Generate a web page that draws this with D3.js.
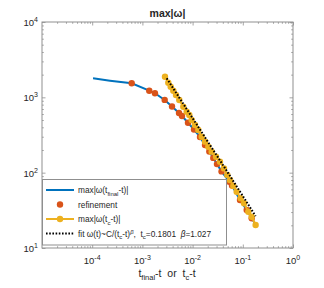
<!DOCTYPE html>
<html>
<head>
<meta charset="utf-8">
<script src="https://cdn.jsdelivr.net/npm/d3@7"></script>
<style>
body{margin:0;background:#fff}
svg{display:block}
text{font-family:"Liberation Sans",Arial,Helvetica,sans-serif;fill:#262626}
</style>
</head>
<body>
<svg id="chart" width="324" height="288"></svg>
<script>
// values
var blueT = [1.04e-4, 2.26e-4, 6.12e-4, 1.37e-3, 1.78e-3, 2.78e-3, 3.89e-3, 5.36e-3, 6.15e-3, 8.10e-3, 0.01066, 0.01404, 0.01766, 0.02153, 0.02584, 0.0306, 0.0377, 0.0539, 0.0610, 0.0879, 0.1197, 0.1504, 0.172]
var blueW = [1790, 1663, 1535, 1225, 1132, 924, 756, 619, 565, 460, 374, 298, 233, 191, 157, 130, 104, 75.9, 67.6, 43.4, 31.9, 24.8, 21.5]

var refT = [6.12e-4, 1.37e-3, 1.78e-3, 2.78e-3, 3.89e-3, 5.36e-3, 6.15e-3, 8.10e-3, 0.01066, 0.01404, 0.01766, 0.02153, 0.02584, 0.0306, 0.0377, 0.0539, 0.0610, 0.0879, 0.1197, 0.1504]
var refW = [1535, 1225, 1132, 924, 756, 619, 565, 460, 374, 298, 233, 191, 157, 130, 104, 75.9, 67.6, 43.4, 31.9, 24.8]

var tcT = [2.82e-3, 3.28e-3, 3.66e-3, 4.13e-3, 4.67e-3, 5.43e-3, 6.53e-3, 7.63e-3, 8.59e-3, 9.59e-3, 0.01117, 0.0130, 0.01518, 0.01767, 0.02056, 0.0240, 0.0292, 0.0351, 0.0422, 0.0491, 0.0556, 0.0647, 0.0755, 0.0907, 0.1057, 0.1288, 0.1503, 0.1801]
var tcW = [1880, 1563, 1383, 1224, 1074, 922, 751, 645, 583, 500, 429, 368, 300, 258, 221, 190, 163, 140, 114, 93, 80, 66.5, 55.9, 45.7, 39.2, 30.3, 26, 20.2]

var fitT = [3.05e-3, 0.01, 0.05, 0.1801]
var fitW = [1790, 529, 101, 26.5]

var xMajor = [1e-4, 1e-3, 1e-2, 1e-1, 1]
var xExp = ["-4", "-3", "-2", "-1", "0"]
var yMajor = [10, 100, 1000, 10000]
var yExp = ["1", "2", "3", "4"]

var W = 324, H = 288
var L = 42, R = 293, T = 22, B = 248
var sp = '\u00a0'

var svg = d3.select('#chart')
var x = d3.scaleLog().domain([1e-5, 1]).range([L, R])
var y = d3.scaleLog().domain([10, 1e4]).range([B, T])

var xMinor = [], yMinor = []
for (var d = -5; d < 0; d++) for (var m = 2; m < 10; m++) xMinor.push(m * Math.pow(10, d))
for (var d = 1; d < 4; d++) for (var m = 2; m < 10; m++) yMinor.push(m * Math.pow(10, d))

var axisCol = '#8f8f8f'

// ticks, all four sides, pointing inward
function tickAxis(ax, vals, len, tr)
{
    var g = svg.append('g').attr('transform', tr)
        .call(ax.tickValues(vals).tickSizeInner(-len).tickSizeOuter(0).tickFormat(''))
    g.select('.domain').remove()
    g.selectAll('line').attr('stroke', axisCol).attr('stroke-width', 0.8)
}
tickAxis(d3.axisBottom(x), xMajor, 3.5, 'translate(0,' + B + ')')
tickAxis(d3.axisBottom(x), xMinor, 1.8, 'translate(0,' + B + ')')
tickAxis(d3.axisTop(x), xMajor, 3.5, 'translate(0,' + T + ')')
tickAxis(d3.axisTop(x), xMinor, 1.8, 'translate(0,' + T + ')')
tickAxis(d3.axisLeft(y), yMajor, 3.5, 'translate(' + L + ',0)')
tickAxis(d3.axisLeft(y), yMinor, 1.8, 'translate(' + L + ',0)')
tickAxis(d3.axisRight(y), yMajor, 3.5, 'translate(' + R + ',0)')
tickAxis(d3.axisRight(y), yMinor, 1.8, 'translate(' + R + ',0)')

svg.append('rect').attr('x', L).attr('y', T).attr('width', R - L).attr('height', B - T)
    .attr('fill', 'none').attr('stroke', axisCol).attr('stroke-width', 1)

// tick labels 10^n
xMajor.forEach(function(v, i)
{
    var t = svg.append('text').attr('x', x(v)).attr('y', B + 16).attr('text-anchor', 'middle').style('font-size', '9.5px')
    t.append('tspan').text('10')
    t.append('tspan').attr('dy', -4).style('font-size', '7px').text(xExp[i])
})
yMajor.forEach(function(v, i)
{
    var t = svg.append('text').attr('x', 38).attr('y', y(v) + 4).attr('text-anchor', 'end').style('font-size', '9.5px')
    t.append('tspan').text('10')
    t.append('tspan').attr('dy', -4).style('font-size', '7px').text(yExp[i])
})

// title and x label
svg.append('text').attr('x', 167.5).attr('y', 17).attr('text-anchor', 'middle')
    .style('font-size', '10.5px').style('font-weight', 'bold').text('max|\u03c9|')

var xl = svg.append('text').attr('x', 167).attr('y', 277).attr('text-anchor', 'middle').style('font-size', '10.5px')
xl.append('tspan').text('t')
xl.append('tspan').attr('dy', 3).style('font-size', '7.5px').text('final')
xl.append('tspan').attr('dy', -3).text('-t' + sp + sp + 'or' + sp + sp + 't')
xl.append('tspan').attr('dy', 3).style('font-size', '7.5px').text('c')
xl.append('tspan').attr('dy', -3).text('-t')

// series
var line = d3.line().x(function(d) {return x(d[0])}).y(function(d) {return y(d[1])})
var blue = blueT.map(function(t, i) {return [t, blueW[i]]})
var red = refT.map(function(t, i) {return [t, refW[i]]})
var yel = tcT.map(function(t, i) {return [t, tcW[i]]})
var fit = fitT.map(function(t, i) {return [t, fitW[i]]})

var plot = svg.append('g')
plot.append('path').datum(blue).attr('d', line).attr('fill', 'none').attr('stroke', '#0072BD').attr('stroke-width', 2)
plot.selectAll('circle.r').data(red).enter().append('circle').attr('class', 'r')
    .attr('cx', function(d) {return x(d[0])}).attr('cy', function(d) {return y(d[1])})
    .attr('r', 3.2).attr('fill', '#D95319')
plot.append('path').datum(yel).attr('d', line).attr('fill', 'none').attr('stroke', '#EDB120').attr('stroke-width', 2)
plot.selectAll('circle.y').data(yel).enter().append('circle').attr('class', 'y')
    .attr('cx', function(d) {return x(d[0])}).attr('cy', function(d) {return y(d[1])})
    .attr('r', 3.2).attr('fill', '#EDB120')
plot.append('path').datum(fit).attr('d', line).attr('fill', 'none').attr('stroke', '#000')
    .attr('stroke-width', 2).attr('stroke-dasharray', '1.6,1.6')

// legend
var lg = svg.append('g')
lg.append('rect').attr('x', 42.5).attr('y', 179.5).attr('width', 184).attr('height', 65.5)
    .attr('fill', '#fff').attr('stroke', '#8f8f8f').attr('stroke-width', 1)
var rows = [190, 204.5, 219, 233.5]
lg.append('line').attr('x1', 46).attr('x2', 74).attr('y1', rows[0]).attr('y2', rows[0]).attr('stroke', '#0072BD').attr('stroke-width', 2)
lg.append('circle').attr('cx', 60).attr('cy', rows[1]).attr('r', 3.2).attr('fill', '#D95319')
lg.append('line').attr('x1', 46).attr('x2', 74).attr('y1', rows[2]).attr('y2', rows[2]).attr('stroke', '#EDB120').attr('stroke-width', 2)
lg.append('circle').attr('cx', 60).attr('cy', rows[2]).attr('r', 3.2).attr('fill', '#EDB120')
lg.append('line').attr('x1', 46).attr('x2', 74).attr('y1', rows[3]).attr('y2', rows[3]).attr('stroke', '#000')
    .attr('stroke-width', 2).attr('stroke-dasharray', '1.6,1.6')

function legText(row)
{
    return lg.append('text').attr('x', 78).attr('y', rows[row] + 3).style('font-size', '8.3px')
}
var t0 = legText(0)
t0.append('tspan').text('max|\u03c9(t')
t0.append('tspan').attr('dy', 2.5).style('font-size', '6px').text('final')
t0.append('tspan').attr('dy', -2.5).text('-t)|')
legText(1).text('refinement')
var t2 = legText(2)
t2.append('tspan').text('max|\u03c9(t')
t2.append('tspan').attr('dy', 2.5).style('font-size', '6px').text('c')
t2.append('tspan').attr('dy', -2.5).text('-t)|')
var t3 = legText(3)
t3.append('tspan').text('fit \u03c9(t)~C/(t')
t3.append('tspan').attr('dy', 2.5).style('font-size', '6px').text('c')
t3.append('tspan').attr('dy', -2.5).text('-t)')
t3.append('tspan').attr('dy', -3).style('font-size', '6px').style('font-style', 'italic').text('\u03b2')
t3.append('tspan').attr('dy', 3).text(',' + sp + sp + 't')
t3.append('tspan').attr('dy', 2.5).style('font-size', '6px').text('c')
t3.append('tspan').attr('dy', -2.5).text('=0.1801' + sp + sp)
t3.append('tspan').style('font-style', 'italic').text('\u03b2')
t3.append('tspan').text('=1.027')
</script>
</body>
</html>
